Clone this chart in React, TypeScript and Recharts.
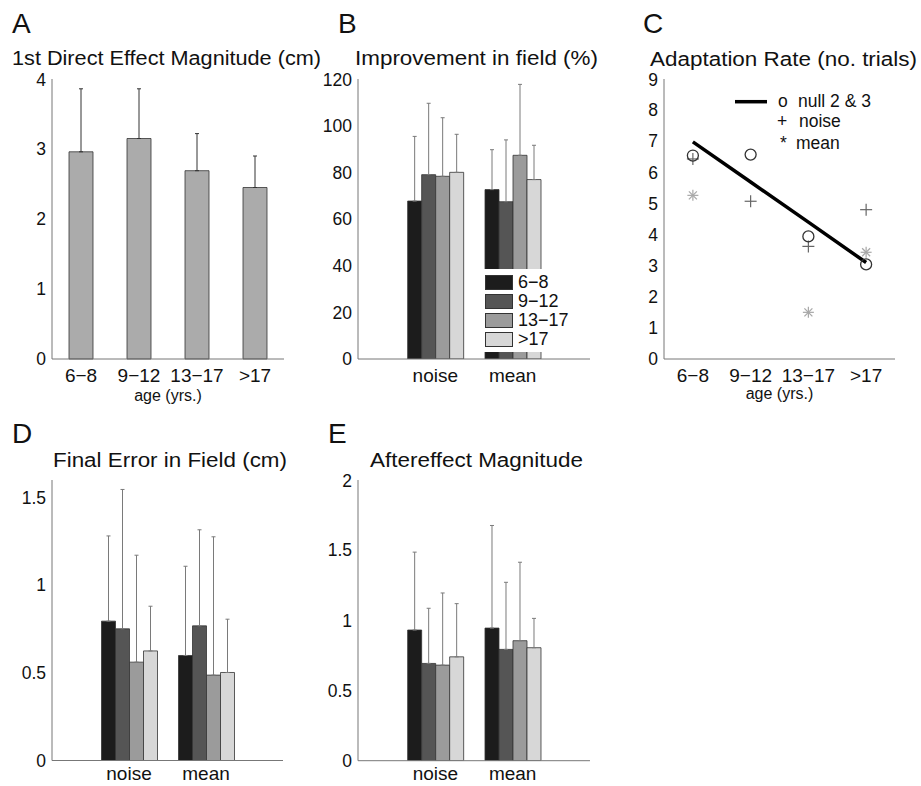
import React from 'react';
import { BarChart, Bar, XAxis, YAxis, ErrorBar, ComposedChart, Line, Legend } from 'recharts';

const FONT = '"Liberation Sans", Arial, Helvetica, sans-serif';

// categories
const ageGroups = ['6-8', '9-12', '13-17', '>17'];
const conditions = ['noise', 'mean'];

// A: 1st direct effect magnitude (cm) -- bar height and top of error bar
const directEffect = [2.96, 3.15, 2.69, 2.45];
const directEffectTop = [3.86, 3.86, 3.22, 2.9];

// B: improvement in field (%) per age group
const improveNoise = [67.7, 79.0, 78.3, 80.0];
const improveNoiseTop = [95.4, 109.6, 103.4, 96.3];
const improveMean = [72.6, 67.4, 87.3, 76.9];
const improveMeanTop = [89.7, 93.9, 117.7, 91.6];

// C: adaptation rate (no. trials)
const rateFit = [6.98, 5.69, 4.4, 3.1];
const rateNull = [6.54, 6.57, 3.94, 3.04];
const rateNoise = [6.43, 5.07, 3.62, 4.8];
const rateMean = [5.26, null, 1.5, 3.43];

// D: final error in field (cm)
const finalErrNoise = [0.795, 0.751, 0.561, 0.625];
const finalErrNoiseTop = [1.281, 1.546, 1.171, 0.88];
const finalErrMean = [0.599, 0.768, 0.487, 0.502];
const finalErrMeanTop = [1.108, 1.316, 1.276, 0.806];

// E: aftereffect magnitude
const afterNoise = [0.931, 0.693, 0.681, 0.74];
const afterNoiseTop = [1.486, 1.086, 1.195, 1.119];
const afterMean = [0.945, 0.793, 0.855, 0.805];
const afterMeanTop = [1.676, 1.271, 1.414, 1.014];

const groupFills = ['#1c1c1c', '#555555', '#9b9b9b', '#d7d7d7'];
const axisStroke = '#777';
const yTick = { fill: '#111', fontSize: 17.5, fontFamily: FONT };
const xTick = { fill: '#111', fontSize: 19, fontFamily: FONT };

// chart frame around each plot area
const YW = 50;
const TOPM = 10;
const RIGHTM = 10;

const ageLabel = (s: string) => String(s).replace('-', '\u2212');

function frame(px: number, py: number, pw: number, ph: number, xh: number) {
  return { left: px - YW, top: py - TOPM, width: YW + pw + RIGHTM, height: TOPM + ph + xh };
}

function groupedRows(noise: number[], noiseTop: number[], mean: number[], meanTop: number[]) {
  return conditions.map((cond, c) => {
    const vals = c === 0 ? noise : mean;
    const tops = c === 0 ? noiseTop : meanTop;
    const row: any = { cond };
    vals.forEach((v, i) => {
      row[`g${i}`] = v;
      row[`e${i}`] = [0, tops[i] - v];
    });
    return row;
  });
}

const directRows = ageGroups.map((age, i) => ({
  age,
  v: directEffect[i],
  e: [0, directEffectTop[i] - directEffect[i]],
}));

const rateRows = ageGroups.map((age, i) => ({
  age,
  fit: rateFit[i],
  nul: rateNull[i],
  noise: rateNoise[i],
  mean: rateMean[i],
}));

const GroupLegend = () => (
  <div style={{ background: '#fff', padding: '4px 0 3px 1px', fontFamily: FONT, fontSize: 18, color: '#111' }}>
    {ageGroups.map((g, i) => (
      <div key={g} style={{ display: 'flex', alignItems: 'center', height: 19 }}>
        <span style={{ display: 'inline-block', width: 28, height: 15, boxSizing: 'border-box', background: groupFills[i], border: '1px solid #333' }} />
        <span style={{ marginLeft: 5, lineHeight: '19px' }}>{ageLabel(g)}</span>
      </div>
    ))}
  </div>
);

// B, D and E share the same grouped layout: two conditions, four age groups each
function GroupedPanel({ px, py, pw, ph, rows, max, ticks, legend, xh = 30, tickGap = 10 }: any) {
  const b = frame(px, py, pw, ph, xh);
  const pad = pw / 6;
  return (
    <div style={{ position: 'absolute', left: b.left, top: b.top }}>
      <BarChart width={b.width} height={b.height} data={rows} margin={{ top: TOPM, right: RIGHTM, bottom: 0, left: 0 }} barSize={14} barGap={0}>
        <XAxis dataKey="cond" height={xh} padding={{ left: pad, right: pad }} tickLine={false} tickSize={0} tickMargin={tickGap} tick={xTick} stroke={axisStroke} interval={0} />
        <YAxis width={YW} type="number" domain={[0, max]} ticks={ticks} allowDataOverflow tickLine={false} tickSize={0} tickMargin={6} tick={yTick} stroke={axisStroke} />
        {ageGroups.map((g, i) => (
          <Bar key={g} dataKey={`g${i}`} name={g} fill={groupFills[i]} stroke="#333" strokeWidth={0.8} isAnimationActive={false}>
            <ErrorBar dataKey={`e${i}`} width={2} stroke="#7a7a7a" strokeWidth={1} direction="y" />
          </Bar>
        ))}
        {legend && (
          <Legend
            layout="vertical"
            align="center"
            verticalAlign="middle"
            content={<GroupLegend />}
            wrapperStyle={{ left: 484 - b.left, top: 269 - b.top, width: 92 }}
          />
        )}
      </BarChart>
    </div>
  );
}

function PanelA() {
  const xh = 48;
  const b = frame(52, 79.3, 232, 280, xh);
  return (
    <div style={{ position: 'absolute', left: b.left, top: b.top }}>
      <BarChart width={b.width} height={b.height} data={directRows} margin={{ top: TOPM, right: RIGHTM, bottom: 0, left: 0 }} barSize={24}>
        <XAxis
          dataKey="age"
          height={xh}
          tickLine={false}
          tickSize={0}
          tickMargin={10}
          tick={xTick}
          stroke={axisStroke}
          tickFormatter={ageLabel}
          interval={0}
          label={{ value: 'age (yrs.)', position: 'insideBottom', offset: 6, fill: '#111', fontSize: 16, fontFamily: FONT }}
        />
        <YAxis width={YW} type="number" domain={[0, 4]} ticks={[0, 1, 2, 3, 4]} tickLine={false} tickSize={0} tickMargin={6} tick={yTick} stroke={axisStroke} />
        <Bar dataKey="v" fill="#ababab" stroke="#333" strokeWidth={0.8} isAnimationActive={false}>
          <ErrorBar dataKey="e" width={2} stroke="#333" strokeWidth={1} direction="y" />
        </Bar>
      </BarChart>
    </div>
  );
}

// markers for panel C
const circleDot = (p: any) => {
  if (p.value == null || p.cy == null) return <g key={`c${p.index}`} />;
  return <circle key={`c${p.index}`} cx={p.cx} cy={p.cy} r={5.5} fill="none" stroke="#333" strokeWidth={1.3} />;
};

const plusDot = (p: any) => {
  if (p.value == null || p.cy == null) return <g key={`p${p.index}`} />;
  const s = 6;
  return (
    <g key={`p${p.index}`} stroke="#666" strokeWidth={1.2}>
      <line x1={p.cx - s} y1={p.cy} x2={p.cx + s} y2={p.cy} />
      <line x1={p.cx} y1={p.cy - s} x2={p.cx} y2={p.cy + s} />
    </g>
  );
};

const starDot = (p: any) => {
  if (p.value == null || p.cy == null) return <g key={`s${p.index}`} />;
  const s = 5.5;
  const d = 4;
  return (
    <g key={`s${p.index}`} stroke="#a8a8a8" strokeWidth={1.2}>
      <line x1={p.cx - s} y1={p.cy} x2={p.cx + s} y2={p.cy} />
      <line x1={p.cx} y1={p.cy - s} x2={p.cx} y2={p.cy + s} />
      <line x1={p.cx - d} y1={p.cy - d} x2={p.cx + d} y2={p.cy + d} />
      <line x1={p.cx - d} y1={p.cy + d} x2={p.cx + d} y2={p.cy - d} />
    </g>
  );
};

const RateLegend = () => (
  <svg width={150} height={66} style={{ display: 'block', fontFamily: FONT, fontSize: 17.5 }}>
    <line x1={0} y1={13.7} x2={32} y2={13.7} stroke="#000" strokeWidth={3.5} />
    <text x={43} y={19.4} fill="#111">o</text>
    <text x={63} y={19.4} fill="#111">null 2 &amp; 3</text>
    <text x={42} y={39.4} fill="#111">+</text>
    <text x={64} y={39.4} fill="#111">noise</text>
    <text x={45} y={61.4} fill="#111">*</text>
    <text x={61} y={61.4} fill="#111">mean</text>
  </svg>
);

function PanelC() {
  const xh = 48;
  const b = frame(664, 79.3, 231, 280, xh);
  return (
    <div style={{ position: 'absolute', left: b.left, top: b.top }}>
      <ComposedChart width={b.width} height={b.height} data={rateRows} margin={{ top: TOPM, right: RIGHTM, bottom: 0, left: 0 }}>
        <XAxis
          dataKey="age"
          scale="band"
          height={xh}
          tickLine={false}
          tickSize={0}
          tickMargin={10}
          tick={xTick}
          stroke={axisStroke}
          tickFormatter={ageLabel}
          interval={0}
          label={{ value: 'age (yrs.)', position: 'insideBottom', offset: 8, fill: '#111', fontSize: 16, fontFamily: FONT }}
        />
        <YAxis width={YW} type="number" domain={[0, 9]} ticks={[0, 1, 2, 3, 4, 5, 6, 7, 8, 9]} tickLine={false} tickSize={0} tickMargin={6} tick={yTick} stroke={axisStroke} />
        <Line dataKey="mean" stroke="none" dot={starDot} activeDot={false} isAnimationActive={false} legendType="none" />
        <Line dataKey="noise" stroke="none" dot={plusDot} activeDot={false} isAnimationActive={false} legendType="none" />
        <Line dataKey="nul" stroke="none" dot={circleDot} activeDot={false} isAnimationActive={false} legendType="none" />
        <Line dataKey="fit" type="linear" stroke="#000" strokeWidth={3.5} dot={false} activeDot={false} isAnimationActive={false} />
        <Legend
          layout="vertical"
          align="center"
          verticalAlign="middle"
          content={<RateLegend />}
          wrapperStyle={{ left: 735 - b.left, top: 88 - b.top, width: 150 }}
        />
      </ComposedChart>
    </div>
  );
}

const improveRows = groupedRows(improveNoise, improveNoiseTop, improveMean, improveMeanTop);
const finalErrRows = groupedRows(finalErrNoise, finalErrNoiseTop, finalErrMean, finalErrMeanTop);
const afterRows = groupedRows(afterNoise, afterNoiseTop, afterMean, afterMeanTop);

export default function App() {
  const title = { fontFamily: FONT, fontSize: 19.5, fill: '#111' };
  const letter = { fontFamily: FONT, fontSize: 28, fill: '#111' };
  return (
    <div style={{ position: 'absolute', left: 0, top: 0, width: 921, height: 786, background: '#fff', overflow: 'hidden' }}>
      <PanelA />
      <GroupedPanel px={358} py={79.3} pw={232} ph={280} rows={improveRows} max={120} ticks={[0, 20, 40, 60, 80, 100, 120]} legend />
      <PanelC />
      <GroupedPanel px={52} py={480.2} pw={231} ph={280.5} rows={finalErrRows} max={1.6} ticks={[0, 0.5, 1, 1.5]} xh={25} tickGap={6} />
      <GroupedPanel px={358} py={480} pw={232} ph={280.7} rows={afterRows} max={2} ticks={[0, 0.5, 1, 1.5, 2]} xh={25} tickGap={6} />
      <svg width={921} height={786} style={{ position: 'absolute', left: 0, top: 0, pointerEvents: 'none' }}>
        <text x={12} y={33} style={letter}>A</text>
        <text x={338} y={33} style={letter}>B</text>
        <text x={643} y={33} style={letter}>C</text>
        <text x={12} y={443} style={letter}>D</text>
        <text x={328} y={443} style={letter}>E</text>
        <text x={12} y={65} style={title} textLength={309} lengthAdjust="spacingAndGlyphs">1st Direct Effect Magnitude (cm)</text>
        <text x={355} y={65} style={title} textLength={243} lengthAdjust="spacingAndGlyphs">Improvement in field (%)</text>
        <text x={650} y={66} style={title} textLength={267} lengthAdjust="spacingAndGlyphs">Adaptation Rate (no. trials)</text>
        <text x={53} y={467} style={title} textLength={234} lengthAdjust="spacingAndGlyphs">Final Error in Field (cm)</text>
        <text x={370} y={467} style={title} textLength={213} lengthAdjust="spacingAndGlyphs">Aftereffect Magnitude</text>
      </svg>
    </div>
  );
}
